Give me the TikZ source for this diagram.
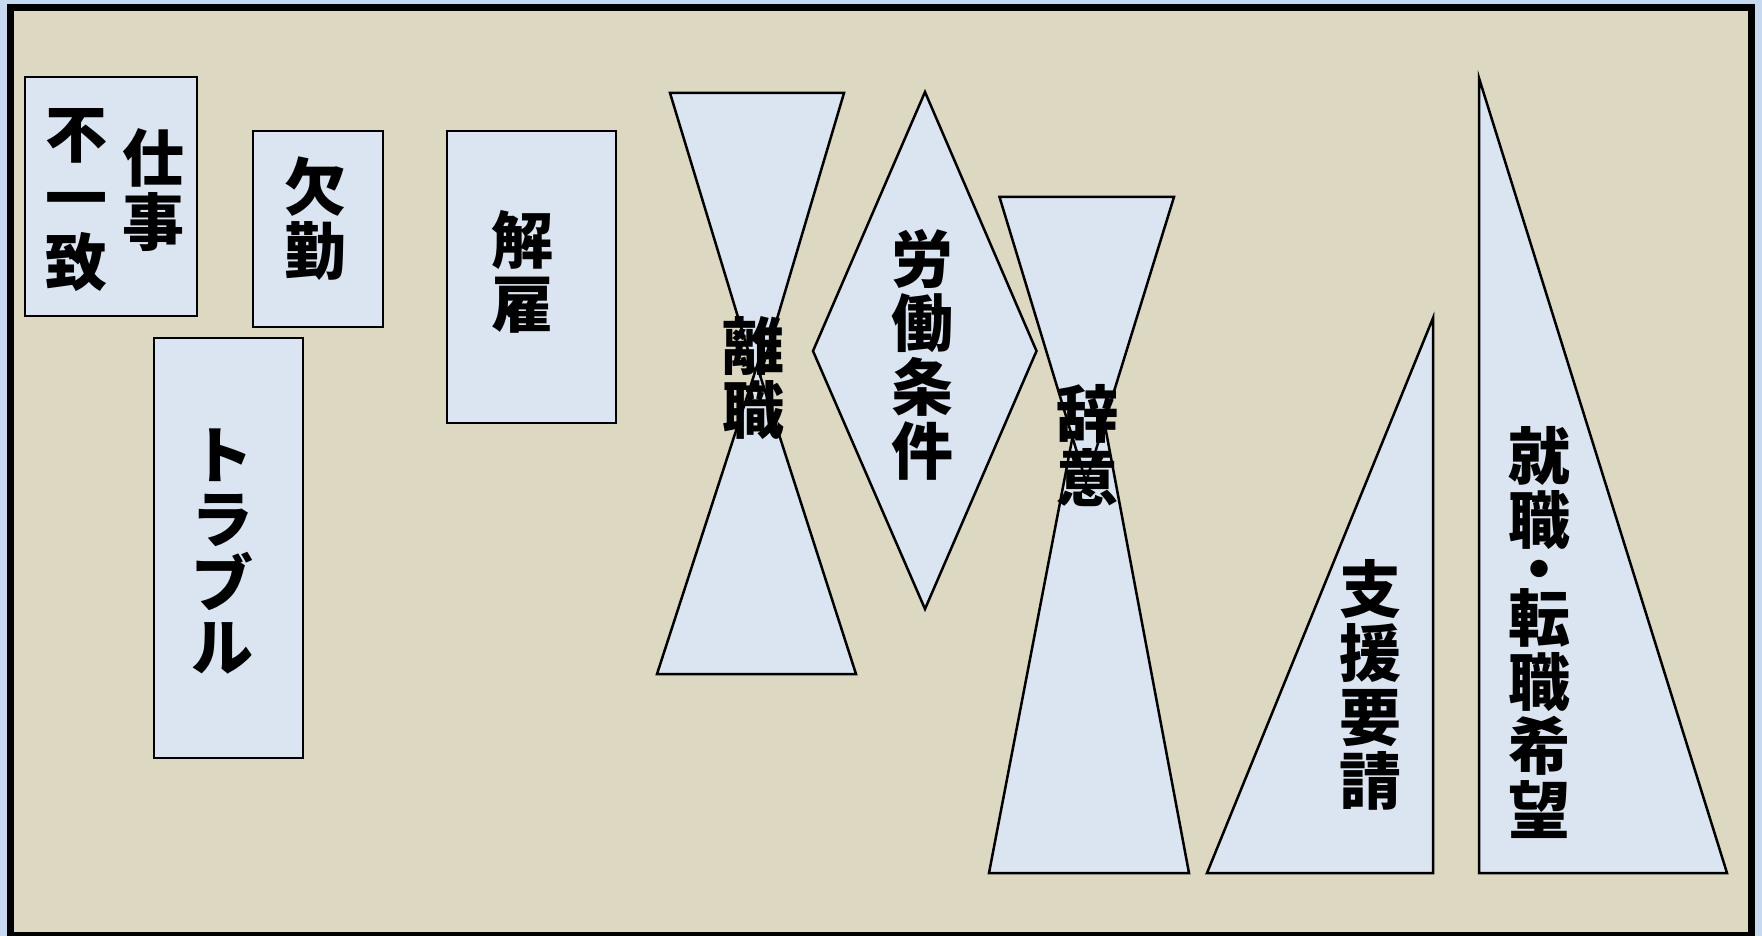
\documentclass[tikz,border=0pt]{standalone}
\usepackage{fontspec}
\newfontfamily\jp{Noto Sans CJK JP}
\definecolor{outerblue}{HTML}{C6D9F1}
\definecolor{beige}{HTML}{DDD8C2}
\definecolor{shapefill}{HTML}{DBE5F1}
\tikzset{
  shapeline/.style={draw=black, line width=2.5pt, fill=shapefill},
  lbl/.style={font=\jp\bfseries\fontsize{62}{64}\selectfont, align=center, inner sep=0pt}
}
\begin{document}
\begin{tikzpicture}[x=1pt,y=-1pt]
\useasboundingbox (0,0) rectangle (1762,936);
\fill[outerblue] (0,0) rectangle (1762,936);
\draw[line width=7pt, fill=beige] (10,7.5) rectangle (1751,935.5);
% rectangles
\draw[shapeline] (25,77) rectangle (197,316);
\draw[shapeline] (253,131) rectangle (383,327);
\draw[shapeline] (154,338) rectangle (303,758);
\draw[shapeline] (447,131) rectangle (616,423);
% hourglass 1 (two overlapping triangles)
\draw[shapeline] (670,93) -- (844,93) -- (758,383) -- cycle;
\draw[shapeline] (657,674) -- (856,674) -- (757,366) -- cycle;
% diamond
\draw[shapeline] (925,92) -- (1036.5,351) -- (925,609) -- (813,351) -- cycle;
% hourglass 2 (two overlapping triangles, upper one in front)
\draw[shapeline] (989,873) -- (1189,873) -- (1090,346) -- cycle;
\draw[shapeline] (999.5,197) -- (1174,197) -- (1086,482) -- cycle;
% triangles
\draw[shapeline] (1433,318) -- (1433,873) -- (1207,873) -- cycle;
\draw[shapeline] (1479,78) -- (1479,873) -- (1727,873) -- cycle;
% labels
\node[lbl] (shigoto) at (153,190) {仕\\事};
\node[lbl] (fuitchi) at (76,200.5) {不\\一\\致};
\node[lbl] (kekkin) at (315,218.5) {欠\\勤};
\node[lbl] (trouble) at (222,552) {ト\\ラ\\ブ\\ル};
\node[lbl] (kaiko) at (522,272) {解\\雇};
\node[lbl] (rishoku) at (753,378) {離\\職};
\node[lbl] (roudou) at (922,354.5) {労\\働\\条\\件};
\node[lbl] (jii) at (1087,446) {辞\\意};
\node[lbl] (shien) at (1370,684.5) {支\\援\\要\\請};
\node[lbl] (shushoku) at (1539,632.5) {就\\職\\[-15pt]・\\[-15pt]転\\職\\希\\望};
\end{tikzpicture}
\end{document}
